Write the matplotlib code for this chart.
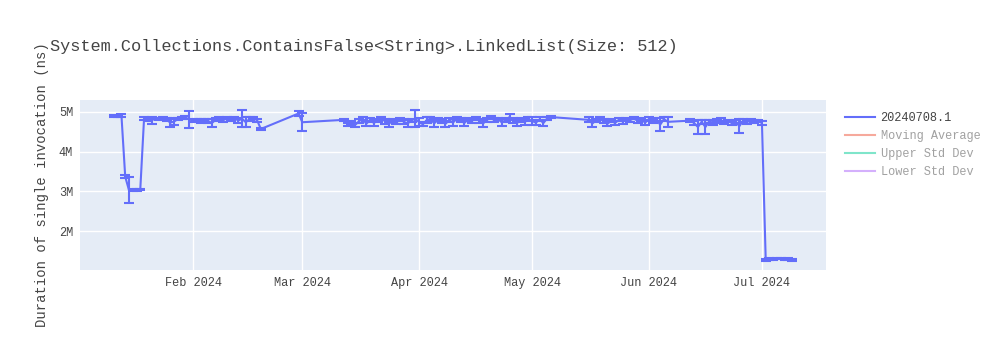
import matplotlib
matplotlib.use('Agg')
import matplotlib.pyplot as plt
import matplotlib.dates as mdates
from matplotlib.lines import Line2D
from matplotlib.ticker import FuncFormatter, FixedLocator
import numpy as np
import pandas as pd

plt.rcParams['font.family'] = ['Liberation Mono', 'DejaVu Sans Mono']

title = 'System.Collections.ContainsFalse<String>.LinkedList(Size: 512)'
y_title = 'Duration of single invocation (ns)'
series_names = ['20240708.1', 'Moving Average', 'Upper Std Dev', 'Lower Std Dev']

# run dates, mean duration (millions of ns) and std dev (millions of ns)
dates = [
    '2024-01-11', '2024-01-12', '2024-01-13', '2024-01-14', '2024-01-15', '2024-01-16',
    '2024-01-17', '2024-01-18', '2024-01-19', '2024-01-20', '2024-01-21', '2024-01-22',
    '2024-01-23', '2024-01-24', '2024-01-25', '2024-01-26', '2024-01-27', '2024-01-28',
    '2024-01-29', '2024-01-30', '2024-01-31', '2024-02-01', '2024-02-02', '2024-02-03',
    '2024-02-04', '2024-02-05', '2024-02-06', '2024-02-07', '2024-02-08', '2024-02-09',
    '2024-02-10', '2024-02-11', '2024-02-12', '2024-02-13', '2024-02-14', '2024-02-15',
    '2024-02-16', '2024-02-17', '2024-02-18', '2024-02-19', '2024-02-29', '2024-03-01',
    '2024-03-12', '2024-03-13', '2024-03-14', '2024-03-15', '2024-03-16', '2024-03-17',
    '2024-03-18', '2024-03-19', '2024-03-20', '2024-03-21', '2024-03-22', '2024-03-23',
    '2024-03-24', '2024-03-25', '2024-03-26', '2024-03-27', '2024-03-28', '2024-03-29',
    '2024-03-30', '2024-03-31', '2024-04-01', '2024-04-02', '2024-04-03', '2024-04-04',
    '2024-04-05', '2024-04-06', '2024-04-07', '2024-04-08', '2024-04-09', '2024-04-10',
    '2024-04-11', '2024-04-12', '2024-04-13', '2024-04-14', '2024-04-15', '2024-04-16',
    '2024-04-17', '2024-04-18', '2024-04-19', '2024-04-20', '2024-04-21', '2024-04-22',
    '2024-04-23', '2024-04-24', '2024-04-25', '2024-04-26', '2024-04-27', '2024-04-28',
    '2024-04-29', '2024-04-30', '2024-05-01', '2024-05-02', '2024-05-03', '2024-05-04',
    '2024-05-05', '2024-05-06', '2024-05-16', '2024-05-17', '2024-05-18', '2024-05-19',
    '2024-05-20', '2024-05-21', '2024-05-22', '2024-05-23', '2024-05-24', '2024-05-25',
    '2024-05-26', '2024-05-27', '2024-05-28', '2024-05-29', '2024-05-30', '2024-05-31',
    '2024-06-01', '2024-06-02', '2024-06-03', '2024-06-04', '2024-06-05', '2024-06-06',
    '2024-06-12', '2024-06-13', '2024-06-14', '2024-06-15', '2024-06-16', '2024-06-17',
    '2024-06-18', '2024-06-19', '2024-06-20', '2024-06-21', '2024-06-22', '2024-06-23',
    '2024-06-24', '2024-06-25', '2024-06-26', '2024-06-27', '2024-06-28', '2024-06-29',
    '2024-06-30', '2024-07-01', '2024-07-02', '2024-07-03', '2024-07-04', '2024-07-05',
    '2024-07-06', '2024-07-07', '2024-07-08', '2024-07-09',
]
mean_m = [
    4.90, 4.88, 4.91, 3.37, 3.03, 3.04,
    3.03, 3.05, 4.83, 4.81, 4.79, 4.83,
    4.82, 4.85, 4.80, 4.73, 4.76, 4.82,
    4.84, 4.86, 4.81, 4.78, 4.80, 4.76,
    4.79, 4.77, 4.72, 4.80, 4.83, 4.79,
    4.84, 4.80, 4.85, 4.78, 4.83, 4.74,
    4.82, 4.85, 4.79, 4.57, 4.96, 4.74,
    4.80, 4.69, 4.72, 4.67, 4.76, 4.83,
    4.70, 4.80, 4.72, 4.79, 4.84, 4.76,
    4.70, 4.79, 4.74, 4.80, 4.75, 4.71,
    4.79, 4.83, 4.74, 4.69, 4.79, 4.83,
    4.71, 4.80, 4.77, 4.70, 4.79, 4.73,
    4.83, 4.79, 4.72, 4.81, 4.77, 4.84,
    4.78, 4.71, 4.80, 4.85, 4.79, 4.82,
    4.73, 4.80, 4.87, 4.78, 4.72, 4.80,
    4.74, 4.82, 4.77, 4.73, 4.81, 4.72,
    4.84, 4.87, 4.80, 4.71, 4.79, 4.83,
    4.76, 4.70, 4.78, 4.72, 4.80, 4.76,
    4.81, 4.79, 4.84, 4.77, 4.81, 4.73,
    4.82, 4.76, 4.80, 4.68, 4.82, 4.75,
    4.78, 4.72, 4.62, 4.75, 4.62, 4.76,
    4.73, 4.77, 4.80, 4.74, 4.77, 4.72,
    4.76, 4.64, 4.78, 4.74, 4.79, 4.75,
    4.77, 4.72, 1.27, 1.29, 1.28, 1.31,
    1.30, 1.28, 1.29, 1.27,
]
std_m = [
    0.02, 0.02, 0.03, 0.03, 0.33, 0.02,
    0.02, 0.02, 0.03, 0.03, 0.09, 0.02,
    0.03, 0.02, 0.04, 0.10, 0.08, 0.03,
    0.02, 0.03, 0.21, 0.04, 0.03, 0.05,
    0.03, 0.04, 0.11, 0.04, 0.03, 0.05,
    0.03, 0.04, 0.03, 0.06, 0.21, 0.12,
    0.05, 0.03, 0.04, 0.02, 0.06, 0.22,
    0.03, 0.04, 0.05, 0.04, 0.05, 0.04,
    0.06, 0.05, 0.08, 0.04, 0.04, 0.06,
    0.08, 0.04, 0.05, 0.04, 0.06, 0.08,
    0.04, 0.22, 0.10, 0.05, 0.07, 0.05,
    0.10, 0.04, 0.06, 0.08, 0.05, 0.09,
    0.04, 0.05, 0.07, 0.04, 0.06, 0.04,
    0.05, 0.09, 0.05, 0.04, 0.05, 0.03,
    0.08, 0.05, 0.08, 0.06, 0.08, 0.05,
    0.08, 0.04, 0.10, 0.07, 0.05, 0.08,
    0.04, 0.03, 0.06, 0.09, 0.04, 0.03,
    0.05, 0.06, 0.04, 0.05, 0.04, 0.06,
    0.03, 0.04, 0.03, 0.05, 0.04, 0.07,
    0.06, 0.05, 0.04, 0.16, 0.05, 0.13,
    0.04, 0.05, 0.17, 0.05, 0.17, 0.04,
    0.06, 0.04, 0.05, 0.04, 0.03, 0.05,
    0.04, 0.18, 0.04, 0.05, 0.03, 0.04,
    0.03, 0.05, 0.02, 0.02, 0.01, 0.02,
    0.01, 0.02, 0.02, 0.02,
]

x = pd.to_datetime(dates)
y = np.array(mean_m) * 1e6
err = np.array(std_m) * 1e6

fig = plt.figure(figsize=(10, 3.5), dpi=100)
ax = fig.add_axes([0.08, 0.2286, 0.746, 0.4857])
ax.set_facecolor('#E5ECF6')
for s in ax.spines.values():
    s.set_visible(False)

ax.errorbar(x, y, yerr=err, color='#636EFA', lw=1.5, elinewidth=1.5,
            capsize=3.5, capthick=1.5, zorder=3)

ax.set_xlim(pd.Timestamp('2024-01-02'), pd.Timestamp('2024-07-18'))
ax.set_ylim(1.02e6, 5.30e6)
ax.xaxis.set_major_locator(mdates.MonthLocator(bymonth=[2, 3, 4, 5, 6, 7]))
ax.xaxis.set_major_formatter(mdates.DateFormatter('%b %Y'))
ax.yaxis.set_major_locator(FixedLocator([2e6, 3e6, 4e6, 5e6]))
ax.yaxis.set_major_formatter(FuncFormatter(lambda v, p: '%dM' % round(v / 1e6)))
ax.tick_params(length=0, labelsize=8.6, colors='#444444', pad=5)
ax.grid(True, color='white', lw=1)
ax.set_axisbelow(True)

fig.text(0.05, 1 - 46 / 350, title, fontsize=12.2, color='#444444', va='center')
fig.text(0.042, 1 - 185 / 350, y_title, fontsize=10, color='#444444',
         rotation=90, va='center', ha='center')

handles = [
    Line2D([], [], color='#636EFA', lw=1.5),
    Line2D([], [], color='#EF553B', lw=1.5, alpha=0.5),
    Line2D([], [], color='#00CC96', lw=1.5, alpha=0.5),
    Line2D([], [], color='#AB63FA', lw=1.5, alpha=0.5),
]
fig.legend(handles, series_names, loc='upper left', bbox_to_anchor=(0.84, 1 - 107 / 350),
           frameon=False, fontsize=8.6, handlelength=2.5, handletextpad=0.5,
           labelspacing=0.52, borderaxespad=0,
           labelcolor=['#444444', '#a1a1a1', '#a1a1a1', '#a1a1a1'])

fig.savefig('out.png', dpi=100)
